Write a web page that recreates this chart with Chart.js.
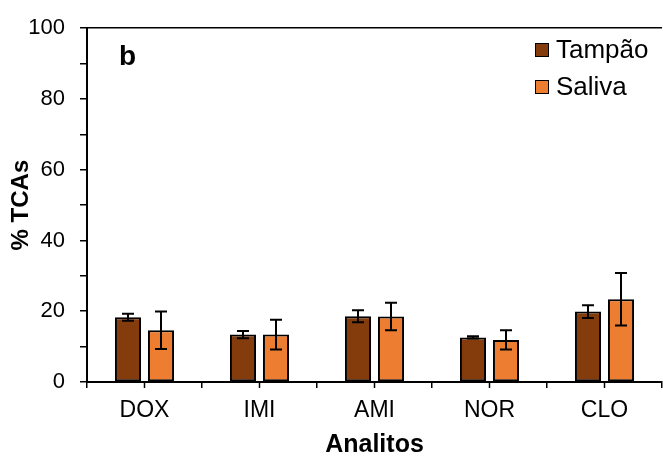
<!DOCTYPE html>
<html>
<head>
<meta charset="utf-8">
<script src="https://cdn.jsdelivr.net/npm/chart.js@4.4.1/dist/chart.umd.min.js"></script>
<style>
  html, body { margin: 0; padding: 0; background: #fff; }
  #wrap { position: relative; width: 663px; height: 457px; }
  #legend {
    position: absolute; left: 535px; top: 31px;
    font: 26px "Liberation Sans", Arial, sans-serif; color: #000;
  }
  #legend .item { display: flex; align-items: center; height: 37px; }
  #legend .box { width: 12px; height: 12px; border: 1.5px solid #000; margin-right: 7px; }
</style>
</head>
<body>
<div id="wrap">
  <canvas id="analitosChart" width="663" height="457"></canvas>
  <div id="legend"></div>
</div>
<script>
const analitos = ["DOX", "IMI", "AMI", "NOR", "CLO"];
const tampao = [18.3, 13.4, 18.6, 12.6, 19.9];
const tampaoErr = [1.0, 1.0, 1.7, 0.3, 1.8];
const saliva = [14.6, 13.4, 18.5, 11.9, 23.4];
const salivaErr = [5.3, 4.2, 3.9, 2.7, 7.4];
const yLabels = [0, 20, 40, 60, 80, 100];

Chart.defaults.font.family = "'Liberation Sans', Arial, sans-serif";
Chart.defaults.color = "#000";

// error bars (mean +/- sd) on top of each bar
const errorBars = {
    id: "errorBars",
    afterDatasetsDraw(chart) {
        const ctx = chart.ctx;
        const y = chart.scales.y;
        ctx.save();
        ctx.strokeStyle = "#000";
        ctx.lineWidth = 2;
        chart.data.datasets.forEach((ds, i) => {
            chart.getDatasetMeta(i).data.forEach((bar, j) => {
                const top = y.getPixelForValue(ds.data[j] + ds.errors[j]);
                const bot = y.getPixelForValue(ds.data[j] - ds.errors[j]);
                ctx.beginPath();
                ctx.moveTo(bar.x, top);
                ctx.lineTo(bar.x, bot);
                ctx.moveTo(bar.x - 6, top);
                ctx.lineTo(bar.x + 6, top);
                ctx.moveTo(bar.x - 6, bot);
                ctx.lineTo(bar.x + 6, bot);
                ctx.stroke();
            });
        });
        ctx.restore();
    }
};

// extra tick marks under each category centre, plus the panel letter
const extras = {
    id: "extras",
    afterDraw(chart) {
        const ctx = chart.ctx;
        const x = chart.scales.x;
        const area = chart.chartArea;
        ctx.save();
        ctx.strokeStyle = "#000";
        ctx.lineWidth = 1.5;
        analitos.forEach((a, i) => {
            const px = x.getPixelForValue(i);
            ctx.beginPath();
            ctx.moveTo(px, area.bottom);
            ctx.lineTo(px, area.bottom + 6);
            ctx.stroke();
        });
        ctx.fillStyle = "#000";
        ctx.font = "bold 28px 'Liberation Sans', Arial, sans-serif";
        ctx.textBaseline = "alphabetic";
        ctx.fillText("b", area.left + 32, area.top + 37);
        ctx.restore();
    }
};

const chart = new Chart("analitosChart", {
    type: "bar",
    data: {
        labels: analitos,
        datasets: [{
            label: "Tampão",
            data: tampao,
            errors: tampaoErr,
            backgroundColor: "#843C0C",
            borderColor: "#000",
            borderWidth: 2,
            borderSkipped: false
        }, {
            label: "Saliva",
            data: saliva,
            errors: salivaErr,
            backgroundColor: "#ED7D31",
            borderColor: "#000",
            borderWidth: 2,
            borderSkipped: false
        }]
    },
    options: {
        responsive: false,
        animation: false,
        devicePixelRatio: 1,
        categoryPercentage: 0.574,
        barPercentage: 0.79,
        layout: { padding: { top: 25, right: 1, left: 0, bottom: 0 } },
        plugins: {
            legend: { display: false },
            tooltip: { enabled: false }
        },
        scales: {
            x: {
                afterFit: (scale) => { scale.height = 75; },
                border: { display: true, color: "#000", width: 2 },
                grid: {
                    offset: true,
                    drawOnChartArea: false,
                    tickLength: 6,
                    tickColor: "#000",
                    lineWidth: 1.5
                },
                ticks: { font: { size: 23 }, padding: 9, maxRotation: 0 },
                title: {
                    display: true,
                    text: "Analitos",
                    font: { size: 25, weight: "bold" },
                    padding: { top: 0, bottom: -3 }
                }
            },
            y: {
                min: 0,
                max: 100,
                afterFit: (scale) => { scale.width = 87; },
                border: { display: true, color: "#000", width: 2 },
                grid: {
                    drawOnChartArea: true,
                    color: (c) => c.tick && c.tick.value === 100 ? "#000" : "rgba(0,0,0,0)",
                    lineWidth: 1.5,
                    tickLength: 7,
                    tickColor: "#000"
                },
                ticks: {
                    stepSize: 10,
                    font: { size: 22 },
                    padding: 15,
                    callback: (v) => yLabels.includes(v) ? v : ""
                },
                title: {
                    display: true,
                    text: "% TCAs",
                    font: { size: 24, weight: "bold" },
                    padding: { top: 7, bottom: 0 }
                }
            }
        }
    },
    plugins: [errorBars, extras]
});

// legend in the upper right of the plot
const legend = document.getElementById("legend");
chart.data.datasets.forEach((ds) => {
    const item = document.createElement("div");
    item.className = "item";
    const box = document.createElement("span");
    box.className = "box";
    box.style.background = ds.backgroundColor;
    const text = document.createElement("span");
    text.textContent = ds.label;
    item.appendChild(box);
    item.appendChild(text);
    legend.appendChild(item);
});
</script>
</body>
</html>
